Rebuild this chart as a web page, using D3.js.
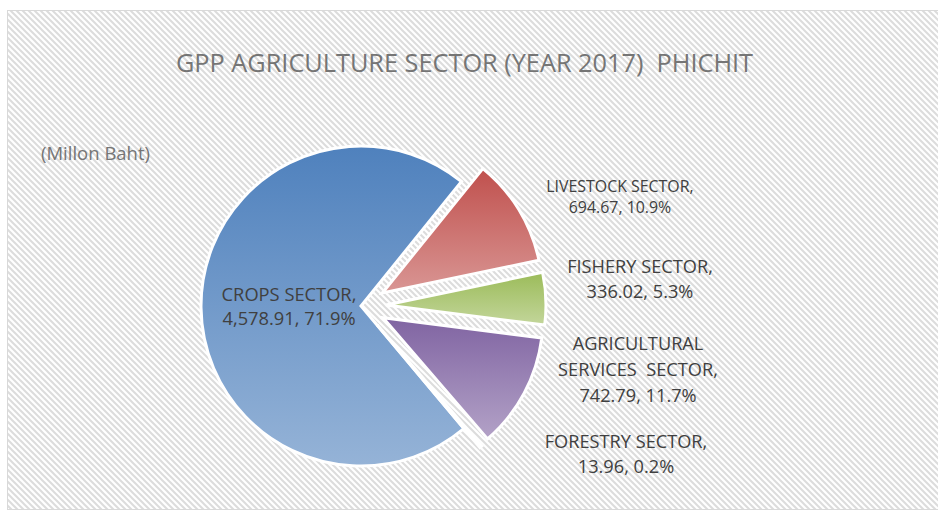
<!DOCTYPE html>
<html>
<head>
<meta charset="utf-8">
<script src="https://cdn.jsdelivr.net/npm/d3@7"></script>
<style>
  html, body { margin: 0; padding: 0; background: #fff; }
  svg { display: block; }
  text { font-family: "Open Sans", "Noto Sans", sans-serif; white-space: pre; }
</style>
</head>
<body>
<svg id="chart" width="938" height="511"></svg>
<script>
// ---- data ----
const categories = ["CROPS SECTOR", "LIVESTOCK SECTOR", "FISHERY SECTOR", "AGRICULTURAL SERVICES  SECTOR", "FORESTRY SECTOR"];
const values = [4578.91, 694.67, 336.02, 742.79, 13.96];
const labelLines = [
  ["CROPS SECTOR,"],
  ["LIVESTOCK SECTOR,"],
  ["FISHERY SECTOR,"],
  ["AGRICULTURAL", "SERVICES  SECTOR,"],
  ["FORESTRY SECTOR,"]
];
const titleText = "GPP AGRICULTURE SECTOR (YEAR 2017)  PHICHIT";
const unitText = "(Millon Baht)";

// ---- styles / layout ----
const colorsTop = ["#4f81bd", "#c0504d", "#9bbb59", "#8064a2", "#4bacc6"];
const colorsBot = ["#95b3d7", "#d99694", "#c3d69b", "#b3a2c7", "#92cddc"];
const exploded = [0, 1, 1, 1, 1];
const labelLayout = [ // center x, first baseline, font size, line height
  {x: 289, y: 301, fs: 18.3, lh: 24},
  {x: 620, y: 192, fs: 15.9, lh: 21},
  {x: 640, y: 273, fs: 18.2, lh: 25},
  {x: 638, y: 350, fs: 18.2, lh: 26},
  {x: 626, y: 448, fs: 18.2, lh: 25}
];
const cx = 361, cy = 306, R = 160, explode = 25;

const svg = d3.select("#chart");
const defs = svg.append("defs");

// hatch background
const pat = defs.append("pattern").attr("id", "hatch")
  .attr("patternUnits", "userSpaceOnUse").attr("width", 6).attr("height", 6);
pat.append("rect").attr("width", 6).attr("height", 6).attr("fill", "#ffffff");
pat.append("path").attr("d", "M-1,-1 L7,7 M-1,5 L1,7 M5,-1 L7,1")
  .attr("stroke", "#dcdcdc").attr("stroke-width", 2);

svg.append("rect").attr("x", 7.5).attr("y", 10.5).attr("width", 940).attr("height", 499)
  .attr("fill", "url(#hatch)").attr("stroke", "#d9d9d9").attr("stroke-width", 1);

// gradients
categories.forEach((c, i) => {
  const g = defs.append("linearGradient").attr("id", "grad" + i)
    .attr("x1", 0).attr("y1", 0).attr("x2", 0).attr("y2", 1);
  g.append("stop").attr("offset", "0%").attr("stop-color", colorsTop[i]);
  g.append("stop").attr("offset", "100%").attr("stop-color", colorsBot[i]);
});

// title
svg.append("text").attr("x", 464.5).attr("y", 72).attr("text-anchor", "middle")
  .attr("font-size", 25.3).attr("fill", "#757575").text(titleText);
svg.append("text").attr("x", 41).attr("y", 160)
  .attr("font-size", 18.5).attr("fill", "#757575").text(unitText);

// pie
const total = d3.sum(values);
const pie = d3.pie().sort(null)
  .startAngle(140 * Math.PI / 180).endAngle(500 * Math.PI / 180);
const arcs = pie(values);
const arc = d3.arc().innerRadius(0).outerRadius(R);

const g = svg.append("g").attr("transform", `translate(${cx},${cy})`);
g.selectAll("path").data(arcs).join("path")
  .attr("transform", (d, i) => {
    if (!exploded[i]) return null;
    const a = (d.startAngle + d.endAngle) / 2;
    return `translate(${explode * Math.sin(a)},${-explode * Math.cos(a)})`;
  })
  .attr("d", arc)
  .attr("fill", (d, i) => `url(#grad${i})`)
  .attr("stroke", "#ffffff").attr("stroke-width", 3).attr("stroke-linejoin", "miter");

// labels
const fmtV = d3.format(",.2f"), fmtP = d3.format(".1%");
arcs.forEach((d, i) => {
  const L = labelLayout[i];
  const lines = labelLines[i].concat([`${fmtV(values[i])}, ${fmtP(values[i] / total)}`]);
  const t = svg.append("text").attr("text-anchor", "middle")
    .attr("font-size", L.fs).attr("fill", "#404040");
  lines.forEach((ln, k) => {
    t.append("tspan").attr("x", L.x).attr("y", L.y + k * L.lh).text(ln);
  });
});
</script>
</body>
</html>
